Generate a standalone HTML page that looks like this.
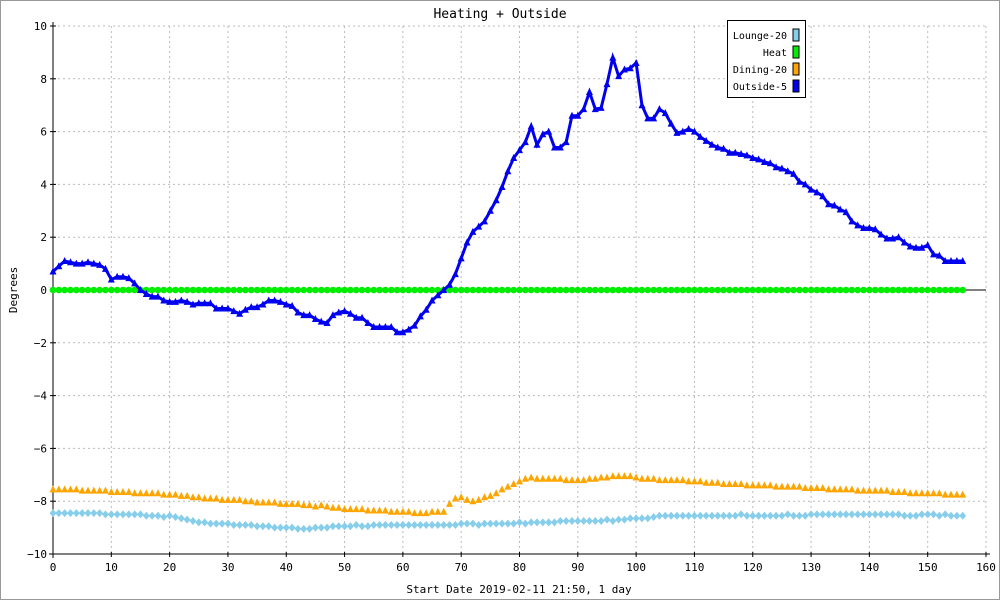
<!DOCTYPE html>
<html><head><meta charset="utf-8"><style>
body{margin:0;background:#fff;}
svg{display:block;font-family:"DejaVu Sans Mono","Liberation Mono",monospace;}
</style></head><body>
<svg id="chart" width="1000" height="600" xmlns="http://www.w3.org/2000/svg">
<rect x="0.5" y="0.5" width="999" height="599" fill="#fff" stroke="#999"/>
<text x="500" y="18" text-anchor="middle" font-size="13" fill="#000">Heating + Outside</text>
<text transform="translate(17,290) rotate(-90)" text-anchor="middle" font-size="11">Degrees</text>
<text x="519" y="593" text-anchor="middle" font-size="11">Start Date 2019-02-11 21:50, 1 day</text>
<g id="grid"></g><g id="axes"></g><g id="series"></g>
<g>
<rect x="727.5" y="20.5" width="78" height="77" fill="#fff" stroke="#000"/>
<text x="787" y="39" text-anchor="end" font-size="10">Lounge-20</text><rect x="793" y="29" width="6" height="12" fill="#87CEEB" stroke="#000"/>
<text x="787" y="56" text-anchor="end" font-size="10">Heat</text><rect x="793" y="46" width="6" height="12" fill="#00ee00" stroke="#000"/>
<text x="787" y="73" text-anchor="end" font-size="10">Dining-20</text><rect x="793" y="63" width="6" height="12" fill="#FFA500" stroke="#000"/>
<text x="787" y="90" text-anchor="end" font-size="10">Outside-5</text><rect x="793" y="80" width="6" height="12" fill="#0000ee" stroke="#000"/>
</g>
</svg>
<script>
const xTicks=[0,10,20,30,40,50,60,70,80,90,100,110,120,130,140,150,160];
const yTicks=[-10,-8,-6,-4,-2,0,2,4,6,8,10];
const outside=[0.7,0.9,1.1,1.05,1.0,1.0,1.05,1.0,0.95,0.8,0.4,0.5,0.5,0.45,0.25,0.0,-0.15,-0.25,-0.25,-0.4,-0.45,-0.45,-0.4,-0.45,-0.55,-0.5,-0.5,-0.5,-0.7,-0.7,-0.7,-0.8,-0.9,-0.75,-0.65,-0.65,-0.55,-0.4,-0.4,-0.45,-0.55,-0.6,-0.85,-0.95,-0.95,-1.1,-1.2,-1.25,-0.95,-0.85,-0.8,-0.9,-1.05,-1.05,-1.25,-1.4,-1.4,-1.4,-1.4,-1.6,-1.6,-1.5,-1.35,-1.0,-0.75,-0.4,-0.2,0.0,0.2,0.6,1.2,1.8,2.2,2.4,2.6,3.0,3.4,3.9,4.5,5.0,5.3,5.6,6.2,5.5,5.9,6.0,5.4,5.4,5.6,6.6,6.6,6.85,7.5,6.85,6.9,7.8,8.8,8.1,8.35,8.4,8.6,7.0,6.5,6.5,6.85,6.7,6.3,5.95,6.0,6.1,6.0,5.8,5.65,5.5,5.4,5.35,5.2,5.2,5.15,5.1,5.0,4.95,4.85,4.8,4.65,4.6,4.5,4.4,4.1,4.0,3.8,3.7,3.55,3.25,3.2,3.05,2.95,2.6,2.45,2.35,2.35,2.3,2.1,1.95,1.95,2.0,1.8,1.65,1.6,1.6,1.7,1.35,1.3,1.1,1.1,1.1,1.1];
const dining=[-7.55,-7.55,-7.55,-7.55,-7.55,-7.6,-7.6,-7.6,-7.6,-7.6,-7.65,-7.65,-7.65,-7.65,-7.7,-7.7,-7.7,-7.7,-7.7,-7.75,-7.75,-7.75,-7.8,-7.8,-7.85,-7.85,-7.9,-7.9,-7.9,-7.95,-7.95,-7.95,-7.95,-8.0,-8.0,-8.05,-8.05,-8.05,-8.05,-8.1,-8.1,-8.1,-8.1,-8.15,-8.15,-8.2,-8.15,-8.2,-8.25,-8.25,-8.3,-8.3,-8.3,-8.3,-8.35,-8.35,-8.35,-8.35,-8.4,-8.4,-8.4,-8.4,-8.45,-8.45,-8.45,-8.4,-8.4,-8.4,-8.1,-7.9,-7.85,-7.95,-8.0,-7.95,-7.85,-7.8,-7.7,-7.55,-7.45,-7.35,-7.25,-7.15,-7.1,-7.15,-7.15,-7.15,-7.15,-7.15,-7.2,-7.2,-7.2,-7.2,-7.15,-7.15,-7.1,-7.1,-7.05,-7.05,-7.05,-7.05,-7.1,-7.15,-7.15,-7.15,-7.2,-7.2,-7.2,-7.2,-7.2,-7.25,-7.25,-7.25,-7.3,-7.3,-7.3,-7.35,-7.35,-7.35,-7.35,-7.4,-7.4,-7.4,-7.4,-7.4,-7.45,-7.45,-7.45,-7.45,-7.45,-7.5,-7.5,-7.5,-7.5,-7.55,-7.55,-7.55,-7.55,-7.55,-7.6,-7.6,-7.6,-7.6,-7.6,-7.6,-7.65,-7.65,-7.65,-7.7,-7.7,-7.7,-7.7,-7.7,-7.7,-7.75,-7.75,-7.75,-7.75];
const lounge=[-8.45,-8.45,-8.45,-8.45,-8.45,-8.45,-8.45,-8.45,-8.45,-8.5,-8.5,-8.5,-8.5,-8.5,-8.5,-8.5,-8.55,-8.55,-8.55,-8.6,-8.55,-8.6,-8.65,-8.7,-8.75,-8.8,-8.8,-8.85,-8.85,-8.85,-8.85,-8.9,-8.9,-8.9,-8.9,-8.95,-8.95,-8.95,-9.0,-9.0,-9.0,-9.0,-9.05,-9.05,-9.05,-9.0,-9.0,-9.0,-8.95,-8.95,-8.95,-8.95,-8.9,-8.95,-8.95,-8.9,-8.9,-8.9,-8.9,-8.9,-8.9,-8.9,-8.9,-8.9,-8.9,-8.9,-8.9,-8.9,-8.9,-8.9,-8.85,-8.85,-8.85,-8.9,-8.85,-8.85,-8.85,-8.85,-8.85,-8.85,-8.8,-8.85,-8.8,-8.8,-8.8,-8.8,-8.8,-8.75,-8.75,-8.75,-8.75,-8.75,-8.75,-8.75,-8.75,-8.7,-8.75,-8.7,-8.7,-8.65,-8.65,-8.65,-8.65,-8.6,-8.55,-8.55,-8.55,-8.55,-8.55,-8.55,-8.55,-8.55,-8.55,-8.55,-8.55,-8.55,-8.55,-8.55,-8.5,-8.55,-8.55,-8.55,-8.55,-8.55,-8.55,-8.55,-8.5,-8.55,-8.55,-8.55,-8.5,-8.5,-8.5,-8.5,-8.5,-8.5,-8.5,-8.5,-8.5,-8.5,-8.5,-8.5,-8.5,-8.5,-8.5,-8.5,-8.55,-8.55,-8.55,-8.5,-8.5,-8.5,-8.55,-8.5,-8.55,-8.55,-8.55];
const heat=outside.map(()=>0);
const NS="http://www.w3.org/2000/svg";
const X0=53,X1=986,Y0=554,Y1=26;
function sx(v){return X0+(v-0)/(160-0)*(X1-X0);}
function sy(v){return Y0-(v+10)/20*(Y0-Y1);}
function mk(tag,attrs,parent){const e=document.createElementNS(NS,tag);for(const k in attrs)e.setAttribute(k,attrs[k]);parent.appendChild(e);return e;}
const grid=document.getElementById('grid'),axes=document.getElementById('axes'),ser=document.getElementById('series');
xTicks.forEach(t=>{
  const g=mk('line',{x1:sx(t),x2:sx(t),y1:Y1,y2:Y0,stroke:'#bbb','stroke-dasharray':'2,3'},grid);
  
  
  mk('line',{x1:sx(t),x2:sx(t),y1:Y0-2,y2:Y0+3,stroke:'#000'},axes);
  const l=mk('text',{x:sx(t),y:Y0+17,'text-anchor':'middle','font-size':'11'},axes);
  l.textContent=t;
  
  
});
yTicks.forEach(t=>{
  const g=mk('line',{x1:X0,x2:X1,y1:sy(t),y2:sy(t),stroke:'#bbb','stroke-dasharray':'2,3'},grid);
  
  
  mk('line',{x1:X0-3,x2:X0+3,y1:sy(t),y2:sy(t),stroke:'#000'},axes);
  const l=mk('text',{x:X0-6,y:sy(t)+4,'text-anchor':'end','font-size':'11'},axes);
  l.textContent=t===0?'0':(t<0?'\u2212'+(-t):t);
  
  
});
mk('line',{x1:X0,x2:X0,y1:Y1-4,y2:Y0+4,stroke:'#000'},axes);
mk('line',{x1:X0-4,x2:X1+4,y1:Y0,y2:Y0,stroke:'#000'},axes);
mk('line',{x1:X0,x2:X1,y1:sy(0),y2:sy(0),stroke:'#000'},axes);
function tri(x,y){return `${x},${y-4} ${x-3.5},${y+3} ${x+3.5},${y+3}`;}
function dia(x,y){return `${x},${y-4} ${x-3.5},${y} ${x},${y+4} ${x+3.5},${y}`;}
// lounge
const gl=mk('g',{},ser);
lounge.forEach((v,i)=>{const p=mk('polygon',{points:dia(sx(i),sy(v)),fill:'#87CEEB'},gl);
  
  });
const gd=mk('g',{},ser);
dining.forEach((v,i)=>{const p=mk('polygon',{points:tri(sx(i),sy(v)),fill:'#FFA500'},gd);
  
  });
const gh=mk('g',{},ser);
heat.forEach((v,i)=>{const p=mk('circle',{cx:sx(i),cy:sy(v),r:3.3,fill:'#00ee00'},gh);
  
  });
const go=mk('g',{},ser);
const ln=mk('polyline',{points:outside.map((v,i)=>sx(i)+','+sy(v)).join(' '),fill:'none',stroke:'#0000ee','stroke-width':'3'},go);


outside.forEach((v,i)=>{const p=mk('polygon',{points:tri(sx(i),sy(v)),fill:'#0000ee'},go);
  
  });
</script>
</body></html>
